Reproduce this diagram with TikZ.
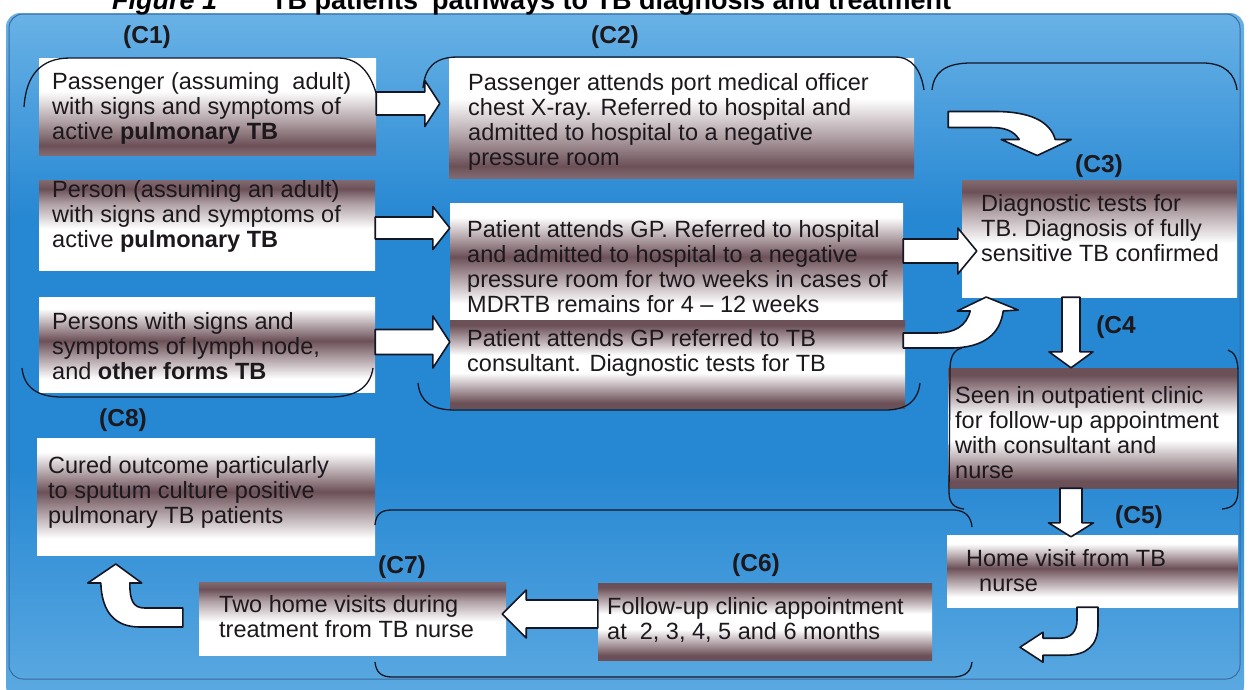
\documentclass[tikz,border=0pt]{standalone}
\usepackage{fontspec}
\newfontfamily\arialf{Liberation Sans}
\usetikzlibrary{calc}
\definecolor{bdark}{RGB}{108,80,88}
\definecolor{edgec}{RGB}{20,22,35}
\definecolor{txtc}{RGB}{28,24,28}
\definecolor{bluetop}{RGB}{105,178,230}
\definecolor{bluemid}{RGB}{38,135,210}
\definecolor{bluebot}{RGB}{92,170,226}
\definecolor{panelline}{RGB}{60,105,160}
\pgfdeclareverticalshading{wdown}{100bp}{color(0bp)=(bdark!85!white); color(25bp)=(bdark!85!white); color(30bp)=(bdark); color(42bp)=(bdark!55!white); color(58bp)=(white); color(100bp)=(white)}
\pgfdeclareverticalshading{dup}{100bp}{color(0bp)=(white); color(48bp)=(white); color(62bp)=(bdark!55!white); color(70bp)=(bdark); color(75bp)=(bdark!85!white); color(100bp)=(bdark!85!white)}
\pgfdeclareverticalshading{wdw}{100bp}{color(0bp)=(white); color(32bp)=(white); color(52bp)=(bdark); color(69bp)=(white); color(100bp)=(white)}
\pgfdeclareverticalshading{dwd}{100bp}{color(0bp)=(bdark); color(28bp)=(bdark); color(45bp)=(white); color(55bp)=(white); color(72bp)=(bdark); color(100bp)=(bdark)}
\pgfdeclareverticalshading{panel}{100bp}{color(0bp)=(bluebot); color(25bp)=(bluebot); color(42bp)=(bluemid); color(60bp)=(bluemid); color(75bp)=(bluetop); color(100bp)=(bluetop)}
% block arrows between named nodes
\newcommand\blkR[7]{\draw[blk] let \p1=(#1), \p2=(#2) in
  (\x1,{\y1+(#3)+(#5)}) -- ({\x2-(#4)-(#7)},{\y1+(#3)+(#5)}) -- ({\x2-(#4)-(#7)},{\y1+(#3)+(#6)})
  -- ({\x2-(#4)},{\y1+(#3)}) -- ({\x2-(#4)-(#7)},{\y1+(#3)-(#6)}) -- ({\x2-(#4)-(#7)},{\y1+(#3)-(#5)})
  -- (\x1,{\y1+(#3)-(#5)}) -- cycle;}
\newcommand\blkL[7]{\draw[blk] let \p1=(#1), \p2=(#2) in
  (\x1,{\y1+(#3)+(#5)}) -- ({\x2+(#4)+(#7)},{\y1+(#3)+(#5)}) -- ({\x2+(#4)+(#7)},{\y1+(#3)+(#6)})
  -- ({\x2+(#4)},{\y1+(#3)}) -- ({\x2+(#4)+(#7)},{\y1+(#3)-(#6)}) -- ({\x2+(#4)+(#7)},{\y1+(#3)-(#5)})
  -- (\x1,{\y1+(#3)-(#5)}) -- cycle;}
\newcommand\blkD[7]{\draw[blk] let \p1=(#1), \p2=(#2) in
  ({\x1+(#3)-(#5)},\y1) -- ({\x1+(#3)-(#5)},{\y2+(#4)+(#7)}) -- ({\x1+(#3)-(#6)},{\y2+(#4)+(#7)})
  -- ({\x1+(#3)},{\y2+(#4)}) -- ({\x1+(#3)+(#6)},{\y2+(#4)+(#7)}) -- ({\x1+(#3)+(#5)},{\y2+(#4)+(#7)})
  -- ({\x1+(#3)+(#5)},\y1) -- cycle;}
\begin{document}
\begin{tikzpicture}[x=1pt,y=-1pt,
  bx/.style={shade, rectangle, draw=none, inner sep=0pt},
  txt/.style={anchor=west, align=left, inner sep=0pt, text=txtc, font=\arialf\fontsize{23.5}{25}\selectfont},
  lab/.style={inner sep=0pt, text=txtc, font=\arialf\bfseries\fontsize{24.5}{26}\selectfont},
  blk/.style={fill=white, draw=edgec, line width=1.6pt, line join=round},
  brk/.style={draw=edgec, line width=1.3pt}]
\useasboundingbox (0,0) rectangle (1250,689);
\clip (0,0) rectangle (1250,689);
\fill[white] (0,0) rectangle (1250,689);
% panel
\shade[shading=panel, rounded corners=14pt] (6,13) rectangle (1244,700);
\draw[panelline, line width=1pt, rounded corners=14pt] (9,14) rectangle (1240,679);
% title (cut off at the top edge, as in the reference)
\node[anchor=base west, inner sep=0pt, text=black, font=\arialf\bfseries\fontsize{27}{30}\selectfont] (title) at (112,9) {\textit{Figure 1}\hspace{54pt}TB patients' pathways to TB diagnosis and treatment};
% boxes
\node[bx, shading=wdown, minimum width=337pt, minimum height=97pt] (A1) at (207.5,106.5) {};
\node[bx, shading=wdown, minimum width=465pt, minimum height=120pt] (B1) at (681.5,118) {};
\node[bx, shading=dup, minimum width=336pt, minimum height=90pt] (A2) at (207,225) {};
\node[bx, shading=wdw, minimum width=453pt, minimum height=117pt] (B2) at (676.5,261.5) {};
\node[bx, shading=dwd, minimum width=455pt, minimum height=88pt] (B3) at (677.5,364) {};
\node[bx, shading=wdw, minimum width=336pt, minimum height=95pt] (A3) at (207,344.5) {};
\node[bx, shading=dup, minimum width=275pt, minimum height=117pt] (C3) at (1099.5,238.5) {};
\node[bx, shading=dwd, minimum width=289pt, minimum height=120pt] (C4) at (1092.5,428) {};
\node[bx, shading=wdw, minimum width=291pt, minimum height=72pt] (C5) at (1092.5,571) {};
\node[bx, shading=dwd, minimum width=334pt, minimum height=77pt] (C6) at (765,621.5) {};
\node[bx, shading=dup, minimum width=307pt, minimum height=73pt] (C7) at (352.5,618.5) {};
\node[bx, shading=wdw, minimum width=338pt, minimum height=117pt] (C8) at (206,496.5) {};
% texts
\node[txt] (A1t) at (52,108.5) {Passenger (assuming~ adult)\\with signs and symptoms of\\active \textbf{pulmonary TB}};
\node[txt] (B1t) at (468,122) {Passenger attends port medical officer\\chest X-ray. Referred to hospital and\\admitted to hospital to a negative\\pressure room};
\node[txt] (A2t) at (52,216) {Person (assuming an adult)\\with signs and symptoms of\\active \textbf{pulmonary TB}};
\node[txt] (B2t) at (467,267) {Patient attends GP. Referred to hospital\\and admitted to hospital to a negative\\pressure room for two weeks in cases of\\MDRTB remains for 4 – 12 weeks};
\node[txt] (A3t) at (52,346) {Persons with signs and\\symptoms of lymph node,\\and \textbf{other forms TB}};
\node[txt] (B3t) at (467,353) {Patient attends GP referred to TB\\consultant. Diagnostic tests for TB};
\node[txt] (C3t) at (981,228) {Diagnostic tests for\\TB. Diagnosis of fully\\sensitive TB confirmed};
\node[txt] (C4t) at (955,433) {Seen in outpatient clinic\\for follow-up appointment\\with consultant and\\nurse};
\node[txt] (C5t) at (966,571) {Home visit from TB\\\hspace*{13pt}nurse};
\node[txt] (C6t) at (607,620) {Follow-up clinic appointment\\at~ 2, 3, 4, 5 and 6 months};
\node[txt] (C7t) at (219,617) {Two home visits during\\treatment from TB nurse};
\node[txt] (C8t) at (48,492) {Cured outcome particularly\\to sputum culture positive\\pulmonary TB patients};
% labels
\node[lab] (L1) at (147,37) {(C1)};
\node[lab] (L2) at (615,37) {(C2)};
\node[lab] (L3) at (1099,166) {(C3)};
\node[lab] (L4) at (1116,327) {(C4};
\node[lab] (L5) at (1139,517) {(C5)};
\node[lab] (L6) at (756,565) {(C6)};
\node[lab] (L7) at (402,567) {(C7)};
\node[lab] (L8) at (123,420) {(C8)};
% brackets
\draw[brk] (24,107) .. controls (26,76) and (40,58) .. (70,58) -- (338,58) .. controls (358,58) and (370,72) .. (376,93);
\draw[brk] (423,88) .. controls (425,68) and (434,57) .. (458,57) -- (895,57) .. controls (912,57) and (921,70) .. (924,90);
\draw[brk] (932,90) .. controls (934,72) and (945,64) .. (968,63) -- (1205,63) .. controls (1225,64) and (1235,74) .. (1237,90);
\draw[brk] (22,368) .. controls (24,388) and (38,397) .. (62,397) -- (330,397) .. controls (355,397) and (370,388) .. (373,368);
\draw[brk] (418,383) .. controls (420,402) and (432,410) .. (455,410) -- (885,410) .. controls (908,410) and (918,400) .. (920,383);
\draw[brk] (962,348) .. controls (953,350) and (950,358) .. (950,370) -- (949,492) .. controls (949,503) and (954,508) .. (964,509);
\draw[brk] (1228,350) .. controls (1235,352) and (1238,360) .. (1238,372) -- (1238,490) .. controls (1238,503) and (1233,508) .. (1222,509);
\draw[brk] (375,525) .. controls (376,514) and (381,510) .. (392,510) -- (955,510) .. controls (966,511) and (971,517) .. (972,527);
\draw[brk] (375,662) .. controls (376,672) and (381,677) .. (392,677) -- (955,677) .. controls (966,676) and (971,671) .. (972,662);
% straight block arrows
\blkR{A1.east}{B1.west}{3pt}{9pt}{11.5pt}{23pt}{15pt}
\blkR{A2.east}{B2.west}{-3pt}{0pt}{11pt}{21.5pt}{17pt}
\blkR{A3.east}{B3.west}{2.5pt}{0pt}{12.5pt}{26pt}{17pt}
\blkR{B2.east}{C3.west}{10.5pt}{-15pt}{12pt}{23pt}{19pt}
\blkL{C6.west}{C7.east}{7.5pt}{-4pt}{14pt}{24pt}{24pt}
\blkD{C3.south}{C4.north}{-28.5pt}{0pt}{9pt}{22pt}{16pt}
\blkD{C4.south}{C5.north}{-21.5pt}{-2pt}{11pt}{22.5pt}{14pt}
% curved block arrows
\begin{scope}[shift={(B1.east)}]
\draw[blk] (34,-6.5) -- (81,-6.5) .. controls (116,-6.5) and (136,3.5) .. (141,21.5) -- (157,21.5) -- (123,37.5) -- (87,21.5) -- (105,21.5) .. controls (99,12.5) and (91,9.5) .. (76,9.5) -- (34,9.5) -- cycle;
\end{scope}
\begin{scope}[shift={(B3.east)}]
\draw[blk] (-2,-31) -- (30,-31) .. controls (50,-31) and (61,-38) .. (65,-53) -- (52,-53) -- (81,-67) -- (113,-54) -- (98,-53) .. controls (95,-31) and (80,-16) .. (45,-16) -- (-2,-16) -- cycle;
\end{scope}
\begin{scope}[shift={(C5.south)}]
\draw[blk] (-15.5,0) -- (-15.5,13) .. controls (-15.5,24) and (-21.5,31) .. (-32.5,31) -- (-49.5,31) -- (-49.5,25) -- (-72.5,40) -- (-49.5,55) -- (-49.5,48) -- (-26.5,48) .. controls (-5.5,48) and (5.5,38) .. (5.5,18) -- (5.5,0) -- cycle;
\end{scope}
\begin{scope}[shift={(C7.west)}]
\draw[blk] (-16,-10.5) -- (-54,-10.5) .. controls (-66,-10.5) and (-69,-18.5) .. (-69,-35.5) -- (-57,-35.5) -- (-83,-54.5) -- (-111,-35.5) -- (-98,-35.5) .. controls (-97,-6.5) and (-84,8.5) .. (-59,8.5) -- (-16,8.5) -- cycle;
\end{scope}
\end{tikzpicture}
\end{document}
